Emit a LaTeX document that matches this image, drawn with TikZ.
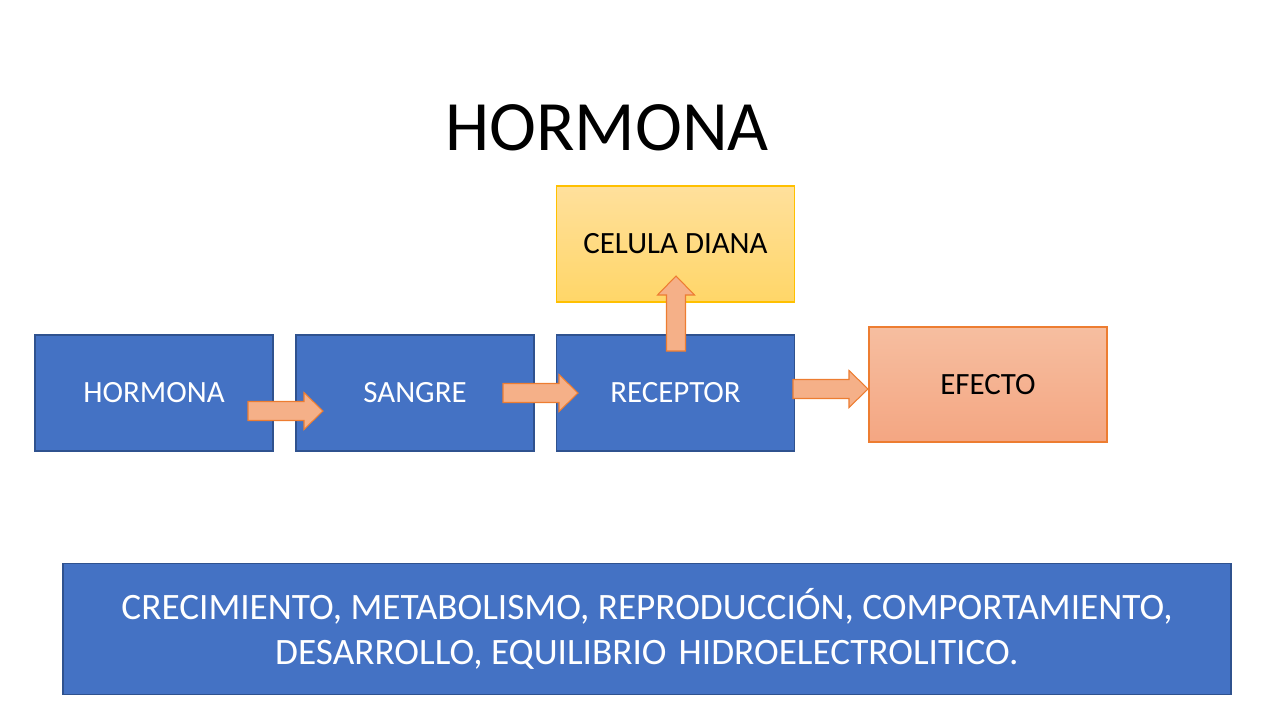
\documentclass[tikz,border=0pt]{standalone}
\usepackage{fontspec}
\setmainfont{Carlito}
\definecolor{cajaazul}{RGB}{68,114,196}
\definecolor{bordeazul}{RGB}{47,82,143}
\definecolor{dianaarriba}{RGB}{255,224,156}
\definecolor{dianaabajo}{RGB}{255,214,104}
\definecolor{bordediana}{RGB}{255,192,0}
\definecolor{efectoarriba}{RGB}{246,190,160}
\definecolor{efectoabajo}{RGB}{244,166,130}
\definecolor{flechafondo}{RGB}{245,176,136}
\definecolor{bordenaranja}{RGB}{237,125,49}
\tikzset{
    caja/.style={draw=bordeazul, fill=cajaazul, line width=0.6pt, text=white,
        minimum width=238*0.02cm, minimum height=116*0.02cm,
        font=\fontsize{17.6}{21}\selectfont},
    cajadiana/.style={caja, draw=bordediana, top color=dianaarriba, bottom color=dianaabajo, text=black},
    cajaefecto/.style={caja, draw=bordenaranja, top color=efectoarriba, bottom color=efectoabajo, text=black,
        minimum height=115*0.02cm},
    pics/flecha/.style={code={
        \filldraw[fill=flechafondo, draw=bordenaranja, line width=0.6pt]
            (0,-9.5) -- (56,-9.5) -- (56,-18.5) -- (75,0) -- (56,18.5) -- (56,9.5) -- (0,9.5) -- cycle;
    }}
}
\begin{document}
\begin{tikzpicture}[x=0.02cm, y=-0.02cm]
                    \useasboundingbox (0,0) rectangle (1280,720);

                    \node (titulo) at (607,128) {\fontsize{40.3}{48}\selectfont HORMONA};

                    \coordinate (H) at (154,393);
                    \coordinate (S) at (415,393);
                    \coordinate (R) at (675.5,393);
                    \coordinate (D) at (675.5,244);
                    \coordinate (E) at (988,384.5);

                    \node[caja] (hormona) at (H) {HORMONA};
                    \node[caja] (sangre) at (S) {SANGRE};
                    \node[caja] (receptor) at (R) {RECEPTOR};
                    \node[cajadiana] (diana) at (D) {CELULA DIANA};
                    \node[cajaefecto] (efecto) at (E) {EFECTO};

                    \pic at (248,411) {flecha};
                    \pic at (503,393) {flecha};
                    \pic at (793,389) {flecha};
                    \pic[rotate=90] at (676,351) {flecha};

                    \node[caja, minimum width=1168*0.02cm, minimum height=131*0.02cm,
                        align=center, font=\fontsize{21.2}{26}\selectfont] (funciones) at (647,629)
                        {CRECIMIENTO, METABOLISMO, REPRODUCCIÓN, COMPORTAMIENTO,\\
                         DESARROLLO, EQUILIBRIO \hspace{0.1em}HIDROELECTROLITICO.};

                \end{tikzpicture}
\end{document}
